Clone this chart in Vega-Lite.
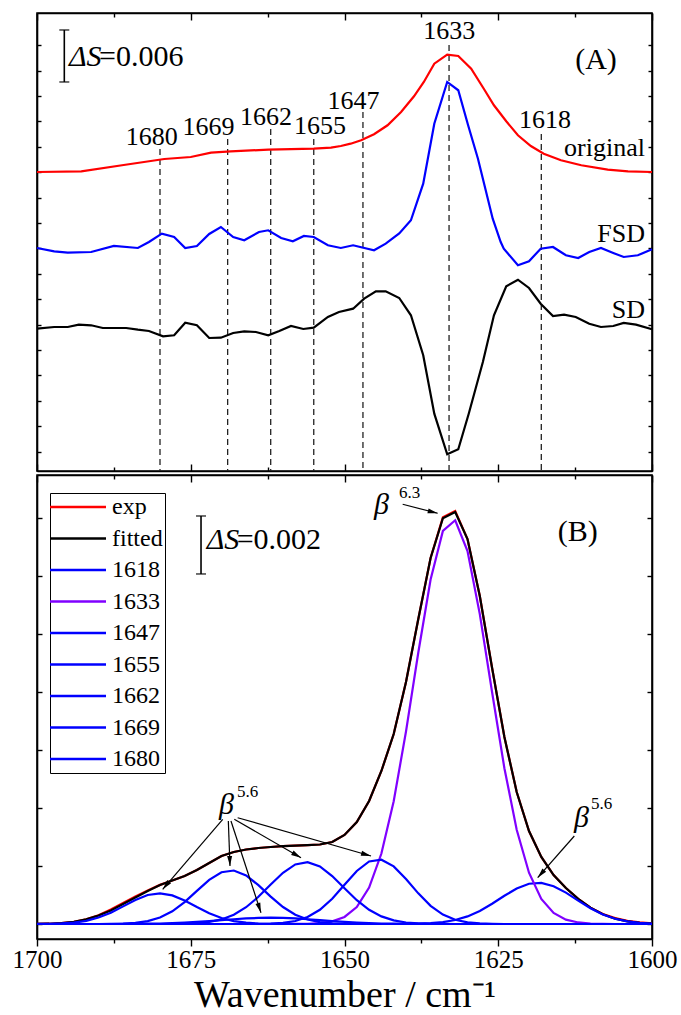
{
  "$schema": "https://vega.github.io/schema/vega-lite/v6.json",
  "background": "white",
  "padding": {"left": 11, "top": 11, "right": 5, "bottom": 0},
  "spacing": 0,
  "config": {
    "font": "Liberation Serif",
    "view": {"stroke": "black", "strokeWidth": 1.6},
    "axis": {"grid": false, "domainColor": "black", "domainWidth": 1.6, "tickColor": "black", "tickWidth": 1.4, "labelColor": "black", "titleColor": "black"}
  },
  "datasets": {
    "original": [
      {"w": 1700, "v": 0.034505}, {"w": 1692.8, "v": 0.034585}, {"w": 1685.9, "v": 0.035312}, {"w": 1679.3, "v": 0.036005},
      {"w": 1675, "v": 0.036236}, {"w": 1671.7, "v": 0.036732}, {"w": 1668.5, "v": 0.036893}, {"w": 1662.4, "v": 0.037078},
      {"w": 1655, "v": 0.037193}, {"w": 1652.2, "v": 0.037309}, {"w": 1650.6, "v": 0.037505}, {"w": 1649, "v": 0.03777},
      {"w": 1647.3, "v": 0.038163}, {"w": 1645.2, "v": 0.038855}, {"w": 1643, "v": 0.039894}, {"w": 1640.8, "v": 0.041429},
      {"w": 1638.7, "v": 0.04324}, {"w": 1637.1, "v": 0.044891}, {"w": 1635.4, "v": 0.047002}, {"w": 1633.3, "v": 0.048041},
      {"w": 1631.5, "v": 0.047891}, {"w": 1629.4, "v": 0.046425}, {"w": 1627.3, "v": 0.044048}, {"w": 1625.7, "v": 0.042202},
      {"w": 1623.7, "v": 0.040355}, {"w": 1621.8, "v": 0.03874}, {"w": 1619.7, "v": 0.037505}, {"w": 1617.6, "v": 0.036616},
      {"w": 1614.8, "v": 0.035855}, {"w": 1611.5, "v": 0.035278}, {"w": 1607.2, "v": 0.03477}, {"w": 1603.9, "v": 0.034585},
      {"w": 1600, "v": 0.034505}
    ],
    "fsd": [
      {"w": 1700, "v": 0.025734}, {"w": 1697.2, "v": 0.025353}, {"w": 1695, "v": 0.025192}, {"w": 1691.2, "v": 0.025273},
      {"w": 1687.5, "v": 0.025965}, {"w": 1683.6, "v": 0.025734}, {"w": 1681.8, "v": 0.026427}, {"w": 1679.7, "v": 0.027384},
      {"w": 1677.7, "v": 0.027004}, {"w": 1675.9, "v": 0.025734}, {"w": 1674, "v": 0.025965}, {"w": 1672, "v": 0.02735},
      {"w": 1670.1, "v": 0.028158}, {"w": 1668.1, "v": 0.027004}, {"w": 1666.3, "v": 0.026623}, {"w": 1663.9, "v": 0.027581},
      {"w": 1662.4, "v": 0.027777}, {"w": 1660.3, "v": 0.026888}, {"w": 1658.4, "v": 0.026507}, {"w": 1656.6, "v": 0.027119},
      {"w": 1655, "v": 0.027004}, {"w": 1652.7, "v": 0.026046}, {"w": 1650.6, "v": 0.025734}, {"w": 1648.6, "v": 0.026046},
      {"w": 1645.2, "v": 0.025469}, {"w": 1643.3, "v": 0.02623}, {"w": 1641.1, "v": 0.027408}, {"w": 1639.2, "v": 0.028931},
      {"w": 1637.2, "v": 0.033154}, {"w": 1635.4, "v": 0.040078}, {"w": 1633.3, "v": 0.044891}, {"w": 1631.5, "v": 0.043933},
      {"w": 1629.9, "v": 0.039894}, {"w": 1628.3, "v": 0.036039}, {"w": 1625.9, "v": 0.029115}, {"w": 1624.6, "v": 0.026427},
      {"w": 1624.1, "v": 0.025653}, {"w": 1621.8, "v": 0.023738}, {"w": 1620, "v": 0.024199}, {"w": 1618.1, "v": 0.025653},
      {"w": 1616.1, "v": 0.02585}, {"w": 1614, "v": 0.024892}, {"w": 1612, "v": 0.02458}, {"w": 1610.2, "v": 0.025273},
      {"w": 1608.3, "v": 0.025734}, {"w": 1606.3, "v": 0.025157}, {"w": 1604.6, "v": 0.024696}, {"w": 1602.3, "v": 0.024892},
      {"w": 1600, "v": 0.025584}
    ],
    "sd": [
      {"w": 1700, "v": 0.016421}, {"w": 1697.2, "v": 0.016618}, {"w": 1695, "v": 0.016618}, {"w": 1693.2, "v": 0.016883},
      {"w": 1691.2, "v": 0.016814}, {"w": 1689.3, "v": 0.016502}, {"w": 1685.5, "v": 0.016502}, {"w": 1683.6, "v": 0.016306},
      {"w": 1681.8, "v": 0.016156}, {"w": 1679.5, "v": 0.015544}, {"w": 1677.7, "v": 0.01566}, {"w": 1675.9, "v": 0.017114},
      {"w": 1674, "v": 0.016814}, {"w": 1672, "v": 0.015348}, {"w": 1670.1, "v": 0.015383}, {"w": 1668.1, "v": 0.015925},
      {"w": 1666.3, "v": 0.016121}, {"w": 1664.4, "v": 0.016041}, {"w": 1662.4, "v": 0.01566}, {"w": 1660.6, "v": 0.016156},
      {"w": 1658.7, "v": 0.016733}, {"w": 1656.7, "v": 0.016387}, {"w": 1655, "v": 0.016537}, {"w": 1652.7, "v": 0.017772},
      {"w": 1650.9, "v": 0.018349}, {"w": 1648.6, "v": 0.018729}, {"w": 1646.8, "v": 0.019883}, {"w": 1644.9, "v": 0.020737},
      {"w": 1643.3, "v": 0.020737}, {"w": 1641.1, "v": 0.019964}, {"w": 1639.2, "v": 0.017968}, {"w": 1637.2, "v": 0.013352},
      {"w": 1635.4, "v": 0.006612}, {"w": 1633.3, "v": 0.001927}, {"w": 1631.5, "v": 0.002504}, {"w": 1629.8, "v": 0.006612},
      {"w": 1627.5, "v": 0.012579}, {"w": 1625.7, "v": 0.017968}, {"w": 1623.7, "v": 0.021314}, {"w": 1621.8, "v": 0.022076},
      {"w": 1620, "v": 0.021118}, {"w": 1618.1, "v": 0.019306}, {"w": 1616.1, "v": 0.017887}, {"w": 1614.3, "v": 0.018037},
      {"w": 1612.4, "v": 0.017772}, {"w": 1610.2, "v": 0.016998}, {"w": 1608.3, "v": 0.016618}, {"w": 1606.3, "v": 0.016733},
      {"w": 1604.6, "v": 0.017079}, {"w": 1602.6, "v": 0.016883}, {"w": 1600, "v": 0.016352}
    ],
    "markers": [
      {"w": 1680, "top": 0.037159, "tx": 1681.33, "ty": 0.037586},
      {"w": 1669, "top": 0.038313, "tx": 1672.11, "ty": 0.03874},
      {"w": 1662, "top": 0.039467, "tx": 1662.76, "ty": 0.039894},
      {"w": 1655, "top": 0.038313, "tx": 1653.98, "ty": 0.038924},
      {"w": 1647, "top": 0.041429, "tx": 1648.54, "ty": 0.041775},
      {"w": 1633, "top": 0.04916, "tx": 1632.96, "ty": 0.049818},
      {"w": 1618, "top": 0.03889, "tx": 1617.4, "ty": 0.039582}
    ],
    "bands": [
      {"w": 1700, "exp": 0.000003, "fitted": 0.000003, "1618": 0, "1633": 0, "1647": 0, "1655": 0, "1662": 0, "1669": 0, "1680": 0.000002},
      {"w": 1698, "exp": 0.00001, "fitted": 0.00001, "1618": 0, "1633": 0, "1647": 0, "1655": 0, "1662": 0, "1669": 0, "1680": 0.000006},
      {"w": 1696, "exp": 0.000028, "fitted": 0.000028, "1618": 0, "1633": 0, "1647": 0, "1655": 0, "1662": 0, "1669": 0, "1680": 0.000019},
      {"w": 1694, "exp": 0.000076, "fitted": 0.000076, "1618": 0, "1633": 0, "1647": 0, "1655": 0, "1662": 0, "1669": 0, "1680": 0.000049},
      {"w": 1692, "exp": 0.000159, "fitted": 0.000159, "1618": 0, "1633": 0, "1647": 0, "1655": 0, "1662": 0, "1669": 0, "1680": 0.000111},
      {"w": 1690, "exp": 0.0003, "fitted": 0.000293, "1618": 0, "1633": 0, "1647": 0, "1655": 0, "1662": 0, "1669": 0.000001, "1680": 0.000222},
      {"w": 1688, "exp": 0.0005, "fitted": 0.000466, "1618": 0, "1633": 0, "1647": 0, "1655": 0, "1662": 0.000001, "1669": 0.000004, "1680": 0.000392},
      {"w": 1686, "exp": 0.000725, "fitted": 0.00069, "1618": 0, "1633": 0, "1647": 0, "1655": 0, "1662": 0.000002, "1669": 0.000014, "1680": 0.000608},
      {"w": 1684, "exp": 0.000948, "fitted": 0.000914, "1618": 0, "1633": 0, "1647": 0, "1655": 0, "1662": 0.000005, "1669": 0.00004, "1680": 0.000831},
      {"w": 1682, "exp": 0.001156, "fitted": 0.001139, "1618": 0, "1633": 0, "1647": 0, "1655": 0, "1662": 0.00001, "1669": 0.000101, "1680": 0.001},
      {"w": 1680, "exp": 0.00135, "fitted": 0.001346, "1618": 0, "1633": 0, "1647": 0, "1655": 0.000001, "1662": 0.000017, "1669": 0.000225, "1680": 0.001059},
      {"w": 1678, "exp": 0.001501, "fitted": 0.001501, "1618": 0, "1633": 0, "1647": 0, "1655": 0.000003, "1662": 0.000029, "1669": 0.00044, "1680": 0.000987},
      {"w": 1676, "exp": 0.001656, "fitted": 0.001656, "1618": 0, "1633": 0, "1647": 0, "1655": 0.00001, "1662": 0.000047, "1669": 0.000756, "1680": 0.00081},
      {"w": 1674, "exp": 0.001863, "fitted": 0.001863, "1618": 0, "1633": 0, "1647": 0, "1655": 0.000028, "1662": 0.000071, "1669": 0.001144, "1680": 0.000585},
      {"w": 1672, "exp": 0.002105, "fitted": 0.002105, "1618": 0, "1633": 0, "1647": 0, "1655": 0.00007, "1662": 0.000099, "1669": 0.001524, "1680": 0.000372},
      {"w": 1670, "exp": 0.002346, "fitted": 0.002346, "1618": 0, "1633": 0, "1647": 0, "1655": 0.000158, "1662": 0.000132, "1669": 0.001787, "1680": 0.000208},
      {"w": 1668, "exp": 0.002484, "fitted": 0.002484, "1618": 0, "1633": 0, "1647": 0, "1655": 0.000319, "1662": 0.000164, "1669": 0.001845, "1680": 0.000102},
      {"w": 1666, "exp": 0.00257, "fitted": 0.00257, "1618": 0, "1633": 0, "1647": 0.000001, "1655": 0.000579, "1662": 0.000192, "1669": 0.001677, "1680": 0.000045},
      {"w": 1664, "exp": 0.002622, "fitted": 0.002622, "1618": 0, "1633": 0, "1647": 0.000003, "1655": 0.000939, "1662": 0.00021, "1669": 0.001341, "1680": 0.000017},
      {"w": 1662, "exp": 0.002657, "fitted": 0.002657, "1618": 0, "1633": 0, "1647": 0.000012, "1655": 0.001362, "1662": 0.000217, "1669": 0.000945, "1680": 0.000006},
      {"w": 1660, "exp": 0.002684, "fitted": 0.002684, "1618": 0, "1633": 0, "1647": 0.000038, "1655": 0.001769, "1662": 0.00021, "1669": 0.000585, "1680": 0.000002},
      {"w": 1658, "exp": 0.002701, "fitted": 0.002701, "1618": 0, "1633": 0.000002, "1647": 0.000103, "1655": 0.002055, "1662": 0.000192, "1669": 0.000319, "1680": 0},
      {"w": 1656, "exp": 0.002719, "fitted": 0.002719, "1618": 0, "1633": 0.000009, "1647": 0.00024, "1655": 0.002136, "1662": 0.000164, "1669": 0.000154, "1680": 0},
      {"w": 1654, "exp": 0.002743, "fitted": 0.002743, "1618": 0, "1633": 0.000031, "1647": 0.000491, "1655": 0.001988, "1662": 0.000132, "1669": 0.000065, "1680": 0},
      {"w": 1652, "exp": 0.002829, "fitted": 0.002829, "1618": 0, "1633": 0.000092, "1647": 0.000873, "1655": 0.001655, "1662": 0.000099, "1669": 0.000024, "1680": 0},
      {"w": 1650, "exp": 0.003071, "fitted": 0.003071, "1618": 0, "1633": 0.000244, "1647": 0.001354, "1655": 0.001232, "1662": 0.000071, "1669": 0.000008, "1680": 0},
      {"w": 1648, "exp": 0.003519, "fitted": 0.003519, "1618": 0, "1633": 0.000584, "1647": 0.001831, "1655": 0.000821, "1662": 0.000047, "1669": 0.000002, "1680": 0},
      {"w": 1646, "exp": 0.004244, "fitted": 0.004244, "1618": 0, "1633": 0.001256, "1647": 0.002158, "1655": 0.00049, "1662": 0.000029, "1669": 0, "1680": 0},
      {"w": 1644, "exp": 0.005279, "fitted": 0.005279, "1618": 0, "1633": 0.002432, "1647": 0.002218, "1655": 0.000262, "1662": 0.000017, "1669": 0, "1680": 0},
      {"w": 1642, "exp": 0.006555, "fitted": 0.006555, "1618": 0.000001, "1633": 0.004237, "1647": 0.001988, "1655": 0.000125, "1662": 0.00001, "1669": 0, "1680": 0},
      {"w": 1640, "exp": 0.008349, "fitted": 0.008349, "1618": 0.000004, "1633": 0.006641, "1647": 0.001553, "1655": 0.000053, "1662": 0.000005, "1669": 0, "1680": 0},
      {"w": 1638, "exp": 0.010523, "fitted": 0.010523, "1618": 0.000011, "1633": 0.009367, "1647": 0.001057, "1655": 0.00002, "1662": 0.000002, "1669": 0, "1680": 0},
      {"w": 1636, "exp": 0.012627, "fitted": 0.012627, "1618": 0.000028, "1633": 0.011882, "1647": 0.000628, "1655": 0.000007, "1662": 0.000001, "1669": 0, "1680": 0},
      {"w": 1634, "exp": 0.01403, "fitted": 0.014, "1618": 0.000065, "1633": 0.013562, "1647": 0.000325, "1655": 0.000002, "1662": 0, "1669": 0, "1680": 0},
      {"w": 1632, "exp": 0.014245, "fitted": 0.014215, "1618": 0.000138, "1633": 0.013928, "1647": 0.000147, "1655": 0, "1662": 0, "1669": 0, "1680": 0},
      {"w": 1630, "exp": 0.013283, "fitted": 0.013283, "1618": 0.000263, "1633": 0.012865, "1647": 0.000058, "1655": 0, "1662": 0, "1669": 0, "1680": 0},
      {"w": 1628, "exp": 0.011316, "fitted": 0.011316, "1618": 0.000452, "1633": 0.010692, "1647": 0.00002, "1655": 0, "1662": 0, "1669": 0, "1680": 0},
      {"w": 1626, "exp": 0.008832, "fitted": 0.008832, "1618": 0.000699, "1633": 0.007994, "1647": 0.000006, "1655": 0, "1662": 0, "1669": 0, "1680": 0},
      {"w": 1624, "exp": 0.006452, "fitted": 0.006452, "1618": 0.000975, "1633": 0.005375, "1647": 0.000001, "1655": 0, "1662": 0, "1669": 0, "1680": 0},
      {"w": 1622, "exp": 0.004554, "fitted": 0.004554, "1618": 0.001226, "1633": 0.003253, "1647": 0, "1655": 0, "1662": 0, "1669": 0, "1680": 0},
      {"w": 1620, "exp": 0.003209, "fitted": 0.003209, "1618": 0.001389, "1633": 0.00177, "1647": 0, "1655": 0, "1662": 0, "1669": 0, "1680": 0},
      {"w": 1618, "exp": 0.002312, "fitted": 0.002312, "1618": 0.001418, "1633": 0.000866, "1647": 0, "1655": 0, "1662": 0, "1669": 0, "1680": 0},
      {"w": 1616, "exp": 0.001691, "fitted": 0.001691, "1618": 0.001305, "1633": 0.000382, "1647": 0, "1655": 0, "1662": 0, "1669": 0, "1680": 0},
      {"w": 1614, "exp": 0.001242, "fitted": 0.001242, "1618": 0.001082, "1633": 0.000151, "1647": 0, "1655": 0, "1662": 0, "1669": 0, "1680": 0},
      {"w": 1612, "exp": 0.00087, "fitted": 0.000866, "1618": 0.000809, "1633": 0.000054, "1647": 0, "1655": 0, "1662": 0, "1669": 0, "1680": 0},
      {"w": 1610, "exp": 0.000565, "fitted": 0.000562, "1618": 0.000544, "1633": 0.000017, "1647": 0, "1655": 0, "1662": 0, "1669": 0, "1680": 0},
      {"w": 1608, "exp": 0.000345, "fitted": 0.000338, "1618": 0.000331, "1633": 0.000005, "1647": 0, "1655": 0, "1662": 0, "1669": 0, "1680": 0},
      {"w": 1606, "exp": 0.000205, "fitted": 0.000184, "1618": 0.000181, "1633": 0.000001, "1647": 0, "1655": 0, "1662": 0, "1669": 0, "1680": 0},
      {"w": 1604, "exp": 0.000112, "fitted": 0.000091, "1618": 0.000089, "1633": 0, "1647": 0, "1655": 0, "1662": 0, "1669": 0, "1680": 0},
      {"w": 1602, "exp": 0.000058, "fitted": 0.000041, "1618": 0.00004, "1633": 0, "1647": 0, "1655": 0, "1662": 0, "1669": 0, "1680": 0},
      {"w": 1600, "exp": 0.00002, "fitted": 0.000016, "1618": 0.000016, "1633": 0, "1647": 0, "1655": 0, "1662": 0, "1669": 0, "1680": 0}
    ],
    "arrows": [
      {"id": "b63", "x1": 1640.54, "y1": 0.01448, "x2": 1634.85, "y2": 0.014169},
      {"id": "a", "x1": 1669.8, "y1": 0.003612, "x2": 1679.56, "y2": 0.001197},
      {"id": "b", "x1": 1668.89, "y1": 0.003554, "x2": 1668.62, "y2": 0.002001},
      {"id": "c", "x1": 1668.46, "y1": 0.003554, "x2": 1663.58, "y2": 0.00039},
      {"id": "d", "x1": 1667.92, "y1": 0.003612, "x2": 1657.07, "y2": 0.002287},
      {"id": "e", "x1": 1667.37, "y1": 0.003667, "x2": 1645.69, "y2": 0.002346},
      {"id": "r", "x1": 1612.63, "y1": 0.003036, "x2": 1618.59, "y2": 0.001597}
    ]
  },
  "resolve": {"scale": {"color": "independent"}, "legend": {"color": "independent"}},
  "vconcat": [
    {
      "width": 615,
      "height": 458,
      "resolve": {"axis": {"x": "independent", "y": "independent"}},
      "layer": [
        {
          "data": {"name": "markers"},
          "mark": {"type": "rule", "strokeDash": [6, 4], "strokeWidth": 1.3, "color": "#222222"},
          "encoding": {
            "x": {"field": "w", "type": "quantitative", "axis": null},
            "y": {"field": "top", "type": "quantitative", "axis": null},
            "y2": {"datum": 0}
          }
        },
        {
          "data": {"name": "markers"},
          "mark": {"type": "text", "font": "Liberation Serif", "color": "black", "fontSize": 26, "align": "center", "baseline": "alphabetic"},
          "encoding": {
            "x": {"field": "tx", "type": "quantitative", "axis": null},
            "y": {"field": "ty", "type": "quantitative", "axis": null},
            "text": {"field": "w", "type": "quantitative", "format": "d"}
          }
        },
        {
          "data": {"name": "original"},
          "mark": {"type": "line", "color": "#ff0000", "strokeWidth": 2.2},
          "encoding": {
            "x": {"field": "w", "type": "quantitative",
              "scale": {"domain": [1600, 1700], "reverse": true, "nice": false, "zero": false},
              "axis": {"orient": "bottom", "values": [1700, 1687.5, 1675, 1662.5, 1650, 1637.5, 1625, 1612.5, 1600], "labels": false, "title": null,
                "tickSize": {"condition": {"test": "datum.value % 25 === 0", "value": -7}, "value": -4}}},
            "y": {"field": "v", "type": "quantitative",
              "scale": {"domain": [0, 0.05285], "nice": false, "zero": false},
              "axis": {"orient": "left", "values": [0.00225, 0.00518, 0.00811, 0.01104, 0.01397, 0.0169, 0.01983, 0.02276, 0.02569, 0.02862, 0.03155, 0.03448, 0.03741, 0.04034, 0.04327, 0.0462, 0.04913], "labels": false, "title": null, "tickSize": -4}}
          }
        },
        {
          "data": {"name": "fsd"},
          "mark": {"type": "line", "color": "#0000ff", "strokeWidth": 2.2},
          "encoding": {
            "x": {"field": "w", "type": "quantitative",
              "axis": {"orient": "top", "values": [1700, 1687.5, 1675, 1662.5, 1650, 1637.5, 1625, 1612.5, 1600], "labels": false, "title": null,
                "tickSize": {"condition": {"test": "datum.value % 25 === 0", "value": -7}, "value": -4}}},
            "y": {"field": "v", "type": "quantitative",
              "axis": {"orient": "right", "values": [0.00225, 0.00518, 0.00811, 0.01104, 0.01397, 0.0169, 0.01983, 0.02276, 0.02569, 0.02862, 0.03155, 0.03448, 0.03741, 0.04034, 0.04327, 0.0462, 0.04913], "labels": false, "title": null, "tickSize": -4}}
          }
        },
        {
          "data": {"name": "sd"},
          "mark": {"type": "line", "color": "#000000", "strokeWidth": 2.2},
          "encoding": {
            "x": {"field": "w", "type": "quantitative", "axis": null},
            "y": {"field": "v", "type": "quantitative", "axis": null}
          }
        },
        {
          "data": {"values": [
            {"x": 1601.14, "y": 0.036351, "name": "original"},
            {"x": 1601.14, "y": 0.026427, "name": "FSD"},
            {"x": 1601.14, "y": 0.017656, "name": "SD"}
          ]},
          "mark": {"type": "text", "font": "Liberation Serif", "color": "black", "fontSize": 26, "align": "right", "baseline": "alphabetic"},
          "encoding": {
            "x": {"field": "x", "type": "quantitative", "axis": null},
            "y": {"field": "y", "type": "quantitative", "axis": null},
            "text": {"field": "name"}
          }
        },
        {
          "data": {"values": [{"x": 1609.11, "y": 0.046426, "name": "(A)"}]},
          "mark": {"type": "text", "font": "Liberation Serif", "color": "black", "fontSize": 30, "align": "center", "baseline": "alphabetic"},
          "encoding": {
            "x": {"field": "x", "type": "quantitative", "axis": null},
            "y": {"field": "y", "type": "quantitative", "axis": null},
            "text": {"field": "name"}
          }
        },
        {
          "data": {"values": [{"x": 1695.56, "lo": 0.044891, "hi": 0.050891}]},
          "mark": {"type": "errorbar", "color": "black", "ticks": {"size": 10, "thickness": 1.6, "color": "black"}, "rule": {"strokeWidth": 1.6, "color": "black"}},
          "encoding": {
            "x": {"field": "x", "type": "quantitative", "axis": null},
            "y": {"field": "lo", "type": "quantitative", "axis": null},
            "y2": {"field": "hi"}
          }
        },
        {
          "data": {"values": [{"x": 1694.8, "y": 0.046737, "sym": "ΔS", "val": "=0.006"}]},
          "layer": [
            {
              "mark": {"type": "text", "font": "Liberation Serif", "color": "black", "fontSize": 30, "fontStyle": "italic", "align": "left", "baseline": "alphabetic"},
              "encoding": {
                "x": {"field": "x", "type": "quantitative", "axis": null},
                "y": {"field": "y", "type": "quantitative", "axis": null},
                "text": {"field": "sym"}
              }
            },
            {
              "mark": {"type": "text", "font": "Liberation Serif", "color": "black", "fontSize": 30, "align": "left", "baseline": "alphabetic", "dx": 30},
              "encoding": {
                "x": {"field": "x", "type": "quantitative", "axis": null},
                "y": {"field": "y", "type": "quantitative", "axis": null},
                "text": {"field": "val"}
              }
            }
          ]
        }
      ]
    },
    {
      "width": 615,
      "height": 464,
      "resolve": {"axis": {"x": "independent", "y": "independent"}},
      "layer": [
        {
          "data": {"name": "bands"},
          "transform": [{"fold": ["exp", "fitted", "1618", "1633", "1647", "1655", "1662", "1669", "1680"], "as": ["series", "A"]}],
          "mark": {"type": "line", "strokeWidth": 2.2},
          "encoding": {
            "x": {"field": "w", "type": "quantitative",
              "scale": {"domain": [1600, 1700], "reverse": true, "nice": false, "zero": false},
              "axis": {"orient": "bottom", "values": [1700, 1687.5, 1675, 1662.5, 1650, 1637.5, 1625, 1612.5, 1600], "format": "d",
                "labelExpr": "datum.value % 25 === 0 ? datum.label : ''",
                "tickSize": {"condition": {"test": "datum.value % 25 === 0", "value": 7}, "value": 4},
                "labelFont": "Liberation Serif", "labelFontSize": 25, "labelPadding": 1, "labelFlush": false, "labelOverlap": false,
                "title": "Wavenumber / cm⁻¹", "titleFont": "Liberation Serif", "titleFontSize": 38, "titleFontWeight": "normal", "titlePadding": 4}},
            "y": {"field": "A", "type": "quantitative",
              "scale": {"domain": [-0.000517, 0.01549], "nice": false, "zero": false},
              "axis": {"orient": "left", "values": [0, 0.002, 0.004, 0.006, 0.008, 0.01, 0.012, 0.014], "labels": false, "title": null, "tickSize": -5}},
            "color": {"field": "series", "type": "nominal",
              "scale": {"domain": ["exp", "fitted", "1618", "1633", "1647", "1655", "1662", "1669", "1680"],
                "range": ["#ff0000", "#000000", "#0000ff", "#8000ff", "#0000ff", "#0000ff", "#0000ff", "#0000ff", "#0000ff"]},
              "legend": {"orient": "none", "legendX": 13, "legendY": 18, "title": null,
                "symbolType": "M-2,0H6", "symbolSize": 196, "symbolStrokeWidth": 2.5,
                "labelFont": "Liberation Serif", "labelFontSize": 24, "labelColor": "black", "labelOffset": 36, "labelLimit": 0,
                "rowPadding": 7.5, "strokeColor": "black", "fillColor": "white", "padding": 2}}
          }
        },
        {
          "data": {"name": "arrows"},
          "mark": {"type": "rule", "color": "black", "strokeWidth": 1.2},
          "encoding": {
            "x": {"field": "x1", "type": "quantitative",
              "axis": {"orient": "top", "values": [1700, 1687.5, 1675, 1662.5, 1650, 1637.5, 1625, 1612.5, 1600], "labels": false, "title": null,
                "tickSize": {"condition": {"test": "datum.value % 25 === 0", "value": -7}, "value": -4}}},
            "y": {"field": "y1", "type": "quantitative",
              "axis": {"orient": "right", "values": [0, 0.002, 0.004, 0.006, 0.008, 0.01, 0.012, 0.014], "labels": false, "title": null, "tickSize": -5}},
            "x2": {"field": "x2"},
            "y2": {"field": "y2"}
          }
        },
        {"data": {"name": "arrows"}, "transform": [{"filter": "datum.id === 'b63'"}],
          "mark": {"type": "point", "shape": "M0,0L0.5,2L-0.5,2Z", "size": 100, "angle": 104.4, "filled": true, "color": "black", "opacity": 1},
          "encoding": {"x": {"field": "x2", "type": "quantitative", "axis": null}, "y": {"field": "y2", "type": "quantitative", "axis": null}}},
        {"data": {"name": "arrows"}, "transform": [{"filter": "datum.id === 'a'"}],
          "mark": {"type": "point", "shape": "M0,0L0.5,2L-0.5,2Z", "size": 100, "angle": 220.6, "filled": true, "color": "black", "opacity": 1},
          "encoding": {"x": {"field": "x2", "type": "quantitative", "axis": null}, "y": {"field": "y2", "type": "quantitative", "axis": null}}},
        {"data": {"name": "arrows"}, "transform": [{"filter": "datum.id === 'b'"}],
          "mark": {"type": "point", "shape": "M0,0L0.5,2L-0.5,2Z", "size": 100, "angle": 177.8, "filled": true, "color": "black", "opacity": 1},
          "encoding": {"x": {"field": "x2", "type": "quantitative", "axis": null}, "y": {"field": "y2", "type": "quantitative", "axis": null}}},
        {"data": {"name": "arrows"}, "transform": [{"filter": "datum.id === 'c'"}],
          "mark": {"type": "point", "shape": "M0,0L0.5,2L-0.5,2Z", "size": 100, "angle": 161.9, "filled": true, "color": "black", "opacity": 1},
          "encoding": {"x": {"field": "x2", "type": "quantitative", "axis": null}, "y": {"field": "y2", "type": "quantitative", "axis": null}}},
        {"data": {"name": "arrows"}, "transform": [{"filter": "datum.id === 'd'"}],
          "mark": {"type": "point", "shape": "M0,0L0.5,2L-0.5,2Z", "size": 100, "angle": 119.9, "filled": true, "color": "black", "opacity": 1},
          "encoding": {"x": {"field": "x2", "type": "quantitative", "axis": null}, "y": {"field": "y2", "type": "quantitative", "axis": null}}},
        {"data": {"name": "arrows"}, "transform": [{"filter": "datum.id === 'e'"}],
          "mark": {"type": "point", "shape": "M0,0L0.5,2L-0.5,2Z", "size": 100, "angle": 106, "filled": true, "color": "black", "opacity": 1},
          "encoding": {"x": {"field": "x2", "type": "quantitative", "axis": null}, "y": {"field": "y2", "type": "quantitative", "axis": null}}},
        {"data": {"name": "arrows"}, "transform": [{"filter": "datum.id === 'r'"}],
          "mark": {"type": "point", "shape": "M0,0L0.5,2L-0.5,2Z", "size": 100, "angle": 221.3, "filled": true, "color": "black", "opacity": 1},
          "encoding": {"x": {"field": "x2", "type": "quantitative", "axis": null}, "y": {"field": "y2", "type": "quantitative", "axis": null}}},
        {
          "data": {"values": [
            {"x": 1645.2, "y": 0.014145, "t": "β"},
            {"x": 1670.41, "y": 0.003795, "t": "β"},
            {"x": 1612.68, "y": 0.003347, "t": "β"}
          ]},
          "mark": {"type": "text", "font": "Liberation Serif", "color": "black", "fontSize": 30, "fontStyle": "italic", "align": "left", "baseline": "alphabetic"},
          "encoding": {
            "x": {"field": "x", "type": "quantitative", "axis": null},
            "y": {"field": "y", "type": "quantitative", "axis": null},
            "text": {"field": "t"}
          }
        },
        {
          "data": {"values": [
            {"x": 1641.14, "y": 0.014697, "t": "6.3"},
            {"x": 1667.48, "y": 0.004392, "t": "5.6"},
            {"x": 1609.92, "y": 0.003968, "t": "5.6"}
          ]},
          "mark": {"type": "text", "font": "Liberation Serif", "color": "black", "fontSize": 17, "align": "left", "baseline": "alphabetic"},
          "encoding": {
            "x": {"field": "x", "type": "quantitative", "axis": null},
            "y": {"field": "y", "type": "quantitative", "axis": null},
            "text": {"field": "t"}
          }
        },
        {
          "data": {"values": [{"x": 1612.08, "y": 0.013214, "name": "(B)"}]},
          "mark": {"type": "text", "font": "Liberation Serif", "color": "black", "fontSize": 30, "align": "center", "baseline": "alphabetic"},
          "encoding": {
            "x": {"field": "x", "type": "quantitative", "axis": null},
            "y": {"field": "y", "type": "quantitative", "axis": null},
            "text": {"field": "name"}
          }
        },
        {
          "data": {"values": [{"x": 1673.33, "lo": 0.012076, "hi": 0.014076}]},
          "mark": {"type": "errorbar", "color": "black", "ticks": {"size": 10, "thickness": 1.6, "color": "black"}, "rule": {"strokeWidth": 1.6, "color": "black"}},
          "encoding": {
            "x": {"field": "x", "type": "quantitative", "axis": null},
            "y": {"field": "lo", "type": "quantitative", "axis": null},
            "y2": {"field": "hi"}
          }
        },
        {
          "data": {"values": [{"x": 1672.41, "y": 0.012927, "sym": "ΔS", "val": "=0.002"}]},
          "layer": [
            {
              "mark": {"type": "text", "font": "Liberation Serif", "color": "black", "fontSize": 30, "fontStyle": "italic", "align": "left", "baseline": "alphabetic"},
              "encoding": {
                "x": {"field": "x", "type": "quantitative", "axis": null},
                "y": {"field": "y", "type": "quantitative", "axis": null},
                "text": {"field": "sym"}
              }
            },
            {
              "mark": {"type": "text", "font": "Liberation Serif", "color": "black", "fontSize": 30, "align": "left", "baseline": "alphabetic", "dx": 30},
              "encoding": {
                "x": {"field": "x", "type": "quantitative", "axis": null},
                "y": {"field": "y", "type": "quantitative", "axis": null},
                "text": {"field": "val"}
              }
            }
          ]
        }
      ]
    }
  ]
}
